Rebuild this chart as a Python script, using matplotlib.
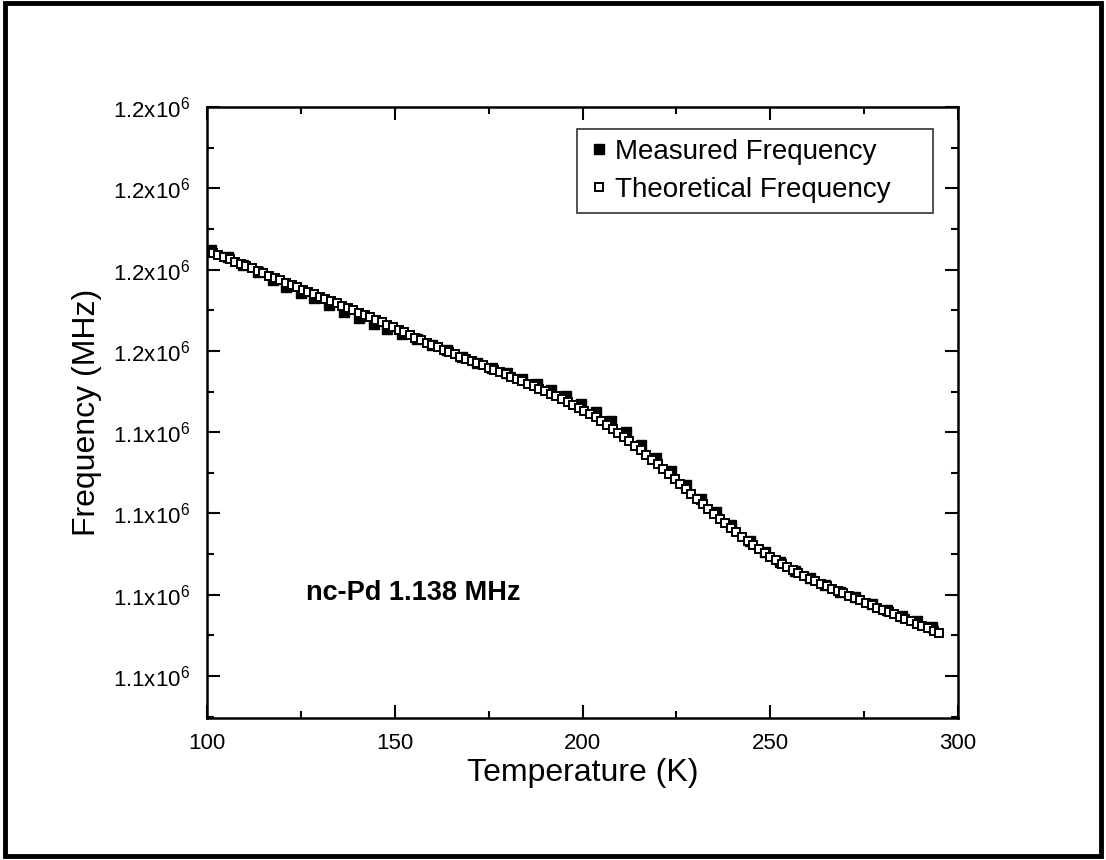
import matplotlib
matplotlib.use("Agg")
import matplotlib.pyplot as plt
from matplotlib.patches import Rectangle
from matplotlib.ticker import FixedLocator, FixedFormatter, MultipleLocator

plt.rcParams["font.family"] = ["Liberation Sans", "DejaVu Sans"]
plt.rcParams["mathtext.default"] = "regular"

# measured points (K, Hz)
temp_meas = [101, 105.5, 109.5, 113.5, 117.5, 121, 125, 128.5, 132.5, 136.5,
             140.5, 144.5, 148, 152, 156, 160, 164, 168, 172, 176,
             180, 184, 188, 191.5, 195.5, 199.5, 203.5, 207.5, 211.5, 215.5,
             219.5, 223.5, 227.5, 231.5, 235.5, 239.5, 244.5, 248.5, 252.5, 256.5,
             260.5, 264.5, 268.5, 272.5, 277, 281, 285, 289, 293]
freq_meas = [1139123, 1139079, 1139028, 1138986, 1138935, 1138890, 1138858, 1138825, 1138782, 1138742,
             1138701, 1138665, 1138632, 1138604, 1138571, 1138536, 1138504, 1138460, 1138427, 1138394,
             1138362, 1138330, 1138297, 1138261, 1138220, 1138173, 1138125, 1138066, 1137998, 1137922,
             1137843, 1137759, 1137674, 1137590, 1137506, 1137427, 1137330, 1137262, 1137203, 1137148,
             1137101, 1137059, 1137020, 1136985, 1136942, 1136906, 1136872, 1136837, 1136800]

# theoretical curve (K, Hz)
temp_theo = [100, 101.5, 103, 104.5, 106, 107.5, 109, 110.5, 112, 113.5,
             115, 116.5, 118, 119.5, 121, 122.5, 124, 125.5, 127, 128.5,
             130, 131.5, 133, 134.5, 136, 137.5, 139, 140.5, 142, 143.5,
             145, 146.5, 148, 149.5, 151, 152.5, 154, 155.5, 157, 158.5,
             160, 161.5, 163, 164.5, 166, 167.5, 169, 170.5, 172, 173.5,
             175, 176.5, 178, 179.5, 181, 182.5, 184, 185.5, 187, 188.5,
             190, 191.5, 193, 194.5, 196, 197.5, 199, 200.5, 202, 203.5,
             205, 206.5, 208, 209.5, 211, 212.5, 214, 215.5, 217, 218.5,
             220, 221.5, 223, 224.5, 226, 227.5, 229, 230.5, 232, 233.5,
             235, 236.5, 238, 239.5, 241, 242.5, 244, 245.5, 247, 248.5,
             250, 251.5, 253, 254.5, 256, 257.5, 259, 260.5, 262, 263.5,
             265, 266.5, 268, 269.5, 271, 272.5, 274, 275.5, 277, 278.5,
             280, 281.5, 283, 284.5, 286, 287.5, 289, 290.5, 292, 293.5,
             295]
freq_theo = [1139113, 1139101, 1139088, 1139076, 1139063, 1139049, 1139035, 1139021, 1139007, 1138992,
             1138978, 1138963, 1138948, 1138933, 1138918, 1138904, 1138890, 1138875, 1138861, 1138847,
             1138833, 1138819, 1138805, 1138792, 1138778, 1138764, 1138749, 1138735, 1138720, 1138706,
             1138691, 1138676, 1138660, 1138645, 1138629, 1138614, 1138598, 1138582, 1138567, 1138551,
             1138536, 1138522, 1138507, 1138493, 1138479, 1138465, 1138451, 1138438, 1138424, 1138411,
             1138397, 1138383, 1138369, 1138355, 1138340, 1138326, 1138312, 1138297, 1138282, 1138267,
             1138252, 1138236, 1138220, 1138203, 1138186, 1138169, 1138151, 1138132, 1138111, 1138091,
             1138070, 1138045, 1138021, 1137996, 1137970, 1137943, 1137916, 1137888, 1137860, 1137831,
             1137802, 1137771, 1137741, 1137710, 1137680, 1137649, 1137618, 1137588, 1137558, 1137528,
             1137498, 1137469, 1137440, 1137412, 1137384, 1137357, 1137330, 1137304, 1137280, 1137256,
             1137232, 1137211, 1137190, 1137169, 1137150, 1137133, 1137115, 1137098, 1137082, 1137067,
             1137051, 1137037, 1137022, 1137008, 1136993, 1136979, 1136965, 1136950, 1136936, 1136921,
             1136907, 1136893, 1136879, 1136865, 1136851, 1136837, 1136822, 1136808, 1136793, 1136777,
             1136762]

ytick_vals = [1136500, 1137000, 1137500, 1138000, 1138500, 1139000, 1139500, 1140000]
ytick_labels = ["1.1x10$^{6}$"] * 4 + ["1.2x10$^{6}$"] * 4

fig = plt.figure(figsize=(11.06, 8.6), dpi=100)
ax = fig.add_axes([0.1872, 0.1651, 0.679, 0.7105])

ax.plot(temp_meas, freq_meas, ls="none", marker="s", ms=6.5, mfc="black",
        mec="black", label="Measured Frequency")
ax.plot(temp_theo, freq_theo, ls="none", marker="s", ms=5.4, mfc="white",
        mec="black", mew=1.4, label="Theoretical Frequency")

ax.set_xlim(100, 300)
ax.set_ylim(1136242, 1140000)
ax.xaxis.set_major_locator(MultipleLocator(50))
ax.xaxis.set_minor_locator(MultipleLocator(25))
ax.yaxis.set_major_locator(FixedLocator(ytick_vals))
ax.yaxis.set_major_formatter(FixedFormatter(ytick_labels))
ax.yaxis.set_minor_locator(MultipleLocator(250))

ax.tick_params(which="both", direction="in", top=True, right=True, width=1.5,
               labelsize=16, color="black")
ax.tick_params(which="major", length=9.5)
ax.tick_params(axis="x", which="major", pad=11)
ax.tick_params(axis="y", which="major", pad=12.5)
ax.tick_params(which="minor", length=5)
for sp in ax.spines.values():
    sp.set_linewidth(1.8)

ax.set_xlabel("Temperature (K)", fontsize=23, labelpad=3)
ax.set_ylabel("Frequency (MHz)", fontsize=23, labelpad=8)

ax.text(126.4, 1137010, "nc-Pd 1.138 MHz", fontsize=19.5, fontweight="bold",
        ha="left", va="center")

leg = ax.legend(loc="upper left", bbox_to_anchor=(0.493, 0.964, 0.474, 0.0),
                mode="expand", borderaxespad=0, fontsize=20, fancybox=False,
                frameon=True, edgecolor="black", handlelength=0.85,
                handletextpad=0.15, borderpad=0.35, labelspacing=0.45)
leg.get_frame().set_linewidth(1.2)

fig.patches.append(Rectangle((0.0041, 0.0047), 0.9914, 0.9918,
                             transform=fig.transFigure, fill=False,
                             lw=3.5, ec="black"))

fig.savefig("out.png", dpi=100)
